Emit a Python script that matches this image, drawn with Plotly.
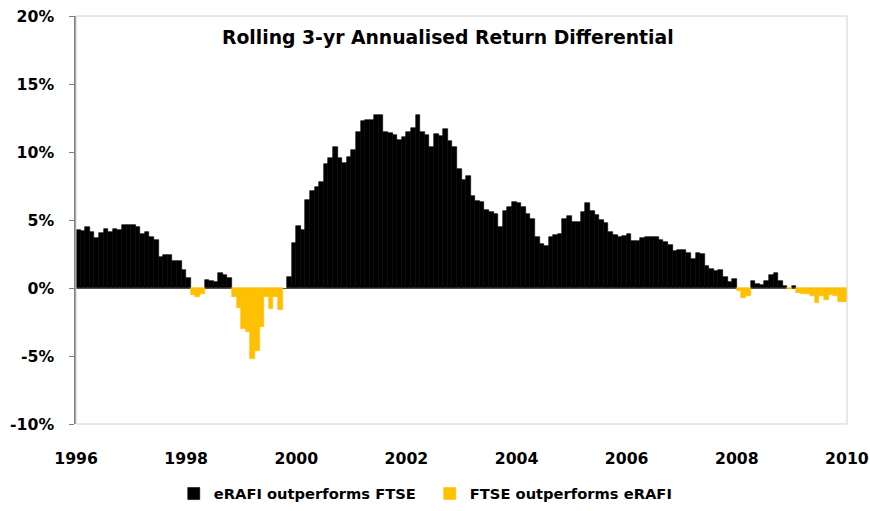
import plotly.graph_objects as go

# Monthly rolling 3-yr annualised return differential (eRAFI - FTSE), in %, Jan 1996 .. Dec 2009
diff = [
    4.29, 4.17, 4.46, 4.14, 3.65, 4.02, 4.34, 4.14, 4.34, 4.29,
    4.63, 4.63, 4.63, 4.50, 3.97, 4.14, 3.77, 3.55, 2.30, 2.45,
    2.45, 1.96, 1.96, 1.30, 0.71, -0.51, -0.69, -0.44, 0.61, 0.54,
    0.42, 1.10, 0.98, 0.74, -0.69, -1.50, -3.00, -3.20, -5.20, -4.66,
    -2.90, -0.69, -1.55, -0.69, -1.60, 0.00, 0.78, 3.30, 4.58, 4.29,
    6.50, 7.16, 7.40, 7.77, 9.10, 9.53, 10.34, 9.53, 9.17, 9.60,
    10.17, 11.45, 12.30, 12.35, 12.35, 12.70, 12.70, 11.45, 11.37, 11.25,
    10.90, 11.10, 11.45, 11.80, 12.70, 11.50, 11.25, 10.34, 11.30, 11.20,
    11.70, 10.80, 10.34, 8.75, 7.94, 8.20, 6.80, 6.42, 6.35, 5.76,
    5.60, 5.44, 4.46, 5.69, 5.93, 6.30, 6.23, 5.93, 5.44, 5.07,
    3.73, 3.24, 3.06, 3.73, 3.90, 3.97, 5.07, 5.27, 4.83, 4.88,
    5.61, 6.25, 5.69, 5.37, 5.02, 4.78, 4.14, 3.90, 3.73, 3.85,
    3.97, 3.48, 3.48, 3.65, 3.75, 3.77, 3.75, 3.55, 3.36, 3.16,
    2.74, 2.79, 2.79, 2.57, 2.13, 2.55, 2.50, 1.64, 1.40, 1.27,
    1.35, 0.78, 0.47, 0.66, -0.25, -0.74, -0.61, 0.49, 0.29, 0.22,
    0.49, 0.98, 1.08, 0.54, 0.17, -0.05, 0.12, -0.39, -0.44, -0.44,
    -0.56, -1.13, -0.56, -0.86, -0.49, -0.56, -1.05, -1.05,
]

year_labels = ["1996", "1998", "2000", "2002", "2004", "2006", "2008", "2010"]
year_months = [0, 24, 48, 72, 96, 120, 144, 168]
y_ticks = [-10, -5, 0, 5, 10, 15, 20]
y_labels = ["-10%", "-5%", "0%", "5%", "10%", "15%", "20%"]

series_pos = "eRAFI outperforms FTSE"
series_neg = "FTSE outperforms eRAFI"
title = "Rolling 3-yr Annualised Return Differential"

x = [i + 0.5 for i in range(len(diff))]
pos = [v if v > 0 else None for v in diff]
neg = [v if v < 0 else None for v in diff]

FONT = "DejaVu Sans"
BLACK = "#000000"
GOLD = "#FFC000"

fig = go.Figure()
fig.add_trace(go.Bar(x=x, y=pos, width=1, name=series_pos,
                     marker=dict(color=BLACK, line=dict(color=BLACK, width=0.6))))
fig.add_trace(go.Bar(x=x, y=neg, width=1, name=series_neg,
                     marker=dict(color=GOLD, line=dict(color=GOLD, width=0.6))))

fig.update_layout(
    width=870, height=511,
    margin=dict(l=76, r=23, t=16, b=87, autoexpand=False),
    paper_bgcolor="white", plot_bgcolor="white",
    barmode="overlay", bargap=0,
    font=dict(family=FONT, size=15, color="#000000", weight="bold"),
    showlegend=True,
    legend=dict(orientation="h", x=0.1268, xanchor="left", y=-0.1716, yanchor="middle",
                font=dict(family=FONT, size=14.7, color="#000000", weight="bold"),
                itemwidth=30, traceorder="normal", entrywidth=211, entrywidthmode="pixels"),
    shapes=[dict(type="rect", xref="paper", yref="paper", x0=0, x1=1, y0=0, y1=1,
                 line=dict(color="#D0D0D0", width=1), layer="above")],
    annotations=[dict(text=title,
                      xref="paper", yref="paper", x=0.4825, y=0.9485,
                      xanchor="center", yanchor="middle", showarrow=False,
                      font=dict(family=FONT, size=18.8, color="#000000", weight="bold"))],
)

fig.update_xaxes(
    range=[-0.01, 168.01], tickmode="array", tickvals=year_months, ticktext=year_labels,
    showgrid=False, zeroline=False, showline=False, ticks="", automargin=False,
    ticklabelstandoff=23, ticklabeloverflow="allow",
    tickfont=dict(family=FONT, size=15.7, color="#000000", weight="bold"),
)
fig.update_yaxes(
    range=[-10, 20], tickmode="array", tickvals=y_ticks, ticktext=y_labels,
    showgrid=False, zeroline=True, zerolinecolor="#5A5A5A", zerolinewidth=1.2,
    showline=True, linecolor="#808080", linewidth=1.5, automargin=False,
    ticks="outside", ticklen=5, tickcolor="#808080", tickwidth=1.2,
    ticklabelstandoff=12, ticklabeloverflow="allow",
    tickfont=dict(family=FONT, size=15.7, color="#000000", weight="bold"),
)

# remove the default page margin and scrollbars so the 870x511 figure fills the window
fig.write_html(
    "out.html",
    config={"displayModeBar": False},
    post_script="document.body.style.margin='0';document.body.style.overflow='hidden';"
                "document.documentElement.style.overflow='hidden';",
)
